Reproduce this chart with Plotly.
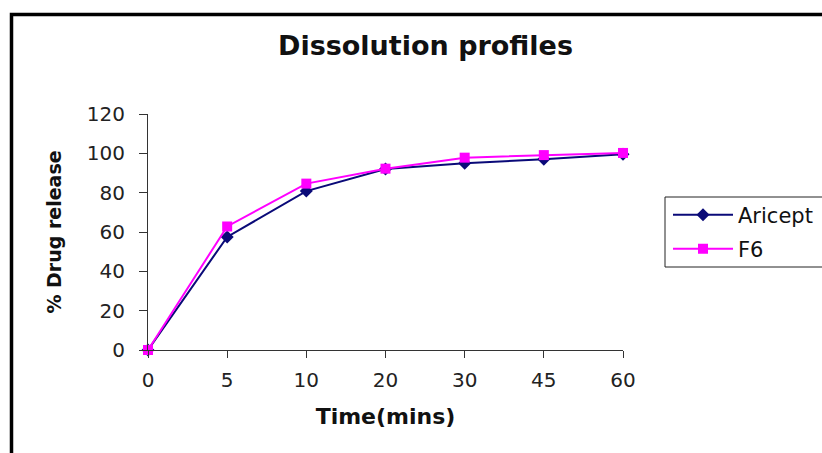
import plotly.graph_objects as go

time_labels = ["0", "5", "10", "20", "30", "45", "60"]
aricept = [0, 57.5, 80.8, 92.0, 95.0, 97.0, 99.5]
f6 = [0, 62.8, 84.6, 92.2, 97.8, 99.1, 100.2]

x_idx = list(range(len(time_labels)))

W, H = 822, 453
L, R, T, B = 148, 199, 114, 103
pw = W - L - R
ph = H - T - B

def px(x):
    return (x - L) / pw

def py(y):
    return (H - B - y) / ph

font = "DejaVu Sans, sans-serif"

fig = go.Figure()
fig.add_trace(go.Scatter(
    x=x_idx, y=aricept, name="Aricept", mode="lines+markers",
    line=dict(color="#0a0a78", width=2),
    marker=dict(symbol="diamond", size=10, color="#0a0a78"),
    cliponaxis=False, legend="legend", showlegend=True,
))
fig.add_trace(go.Scatter(
    x=x_idx, y=f6, name="F6", mode="lines+markers",
    line=dict(color="#ff00ff", width=2),
    marker=dict(symbol="square", size=10, color="#ff00ff"),
    cliponaxis=False, legend="legend2", showlegend=True,
))

leg_common = dict(font=dict(family=font, size=21, color="#111"), bgcolor="rgba(0,0,0,0)",
                  borderwidth=0, xanchor="left", yanchor="middle", itemwidth=60)

fig.update_layout(
    width=W, height=H,
    showlegend=True,
    margin=dict(l=L, r=R, t=T, b=B, autoexpand=False),
    paper_bgcolor="white", plot_bgcolor="white",
    title=dict(text="<b>Dissolution profiles</b>", x=425.5 / W, xanchor="center",
               y=1 - 46 / H, yanchor="middle",
               font=dict(family=font, size=27, color="#111")),
    legend=dict(x=px(668), y=py(215), **leg_common),
    legend2=dict(x=px(668), y=py(249), **leg_common),
    xaxis=dict(
        range=[0, 6], tickmode="array", tickvals=x_idx, ticktext=time_labels,
        showgrid=False, zeroline=False, showline=True, linecolor="#333", linewidth=1,
        ticks="outside", ticklen=7, tickcolor="#333", ticklabelstandoff=5,
        tickfont=dict(family=font, size=20, color="#222"),
        title=dict(text="<b>Time(mins)</b>", font=dict(family=font, size=22, color="#111"), standoff=17),
    ),
    yaxis=dict(
        range=[0, 120], tickvals=[0, 20, 40, 60, 80, 100, 120],
        showgrid=False, zeroline=False, showline=True, linecolor="#333", linewidth=1,
        ticks="outside", ticklen=8, tickcolor="#333", ticklabelstandoff=10,
        tickfont=dict(family=font, size=20, color="#222"),
        title=dict(text="<b>% Drug release</b>", font=dict(family=font, size=19, color="#111"), standoff=20),
    ),
    shapes=[
        dict(type="rect", xref="paper", yref="paper",
             x0=px(11.5), x1=px(900), y0=py(600), y1=py(14.5),
             line=dict(color="black", width=3.5), layer="above"),
        dict(type="rect", xref="paper", yref="paper",
             x0=px(665), x1=px(900), y0=py(267), y1=py(197),
             line=dict(color="#222", width=1)),
    ],
)

fig.write_html("out.html")
